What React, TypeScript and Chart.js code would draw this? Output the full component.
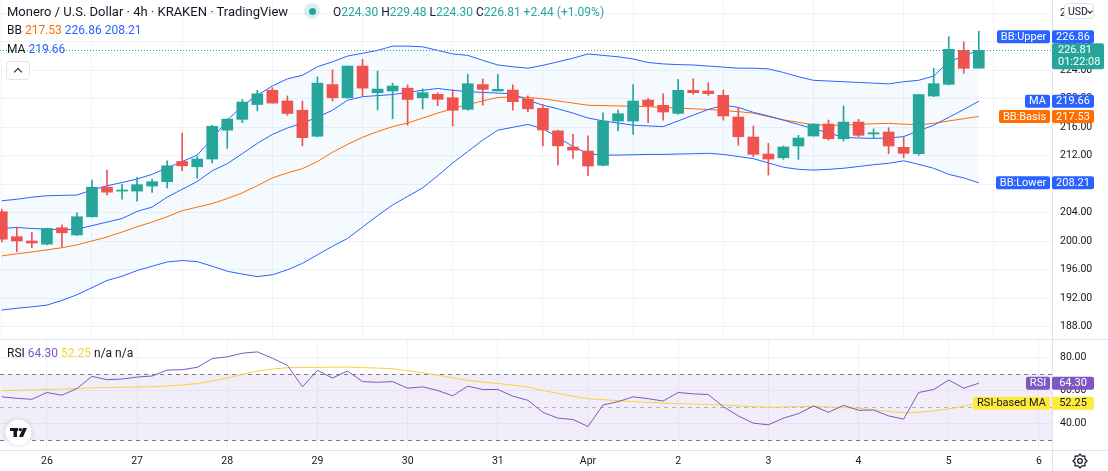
import { useEffect, useRef } from 'react';
import Chart from 'chart.js/auto';

// 4h candles: index 0 = 25 Mar 12:00, index 63 = 5 Apr 00:00
const opens = [
  204.15, 200.65, 200.04, 199.6, 201.9, 200.9, 203.45, 207.6, 207.05, 207.05,
  207.76, 208.37, 211.2, 210.47, 211.55, 215.6, 217.12, 219.2, 221.2, 219.7,
  218.4, 214.75, 222.0, 220.15, 224.6, 220.86, 221.1, 221.5, 220.15, 220.63,
  220.15, 218.53, 222.0, 221.1, 221.23, 219.97, 218.67, 215.5, 213.24, 212.67,
  210.67, 216.88, 216.88, 219.83, 219.09, 217.96, 221.19, 221.09, 220.49, 217.45,
  214.64, 212.25, 211.73, 213.38, 214.78, 216.46, 214.4, 216.74, 215.06, 215.34,
  213.19, 212.3, 220.39, 222.03, 226.81, 224.3,
];
const highs = [
  204.5, 202.0, 201.26, 201.85, 202.3, 204.0, 208.6, 210.0, 208.0, 208.98,
  208.74, 211.3, 215.2, 211.9, 216.3, 217.2, 219.9, 221.2, 221.55, 220.4,
  219.7, 223.1, 224.05, 224.6, 225.55, 223.9, 222.2, 221.95, 221.4, 220.86,
  221.3, 223.45, 222.8, 223.45, 221.95, 220.43, 219.2, 215.6, 215.0, 214.8,
  218.05, 218.43, 222.0, 220.07, 220.7, 222.73, 222.82, 222.26, 221.23, 218.75,
  216.18, 213.75, 213.38, 214.88, 216.5, 217.02, 219.0, 217.12, 215.8, 215.94,
  214.68, 220.6, 224.28, 228.72, 228.0, 229.48,
];
const lows = [
  199.9, 198.55, 199.1, 199.5, 199.25, 200.8, 203.4, 206.5, 205.9, 205.65,
  206.87, 207.5, 209.9, 208.85, 211.0, 213.05, 216.65, 218.3, 219.4, 217.7,
  213.4, 214.65, 219.7, 220.1, 220.4, 218.43, 217.2, 216.3, 218.55, 219.03,
  216.2, 218.4, 219.1, 221.1, 218.4, 218.15, 213.4, 210.7, 211.65, 209.2,
  210.6, 215.48, 215.0, 216.65, 217.0, 217.82, 220.63, 220.49, 217.02, 213.47,
  211.87, 209.3, 211.5, 211.5, 214.75, 214.22, 214.08, 214.68, 214.46, 212.3,
  211.73, 212.07, 220.3, 221.94, 223.58, 224.3,
];
const closes = [
  200.3, 200.05, 199.76, 201.8, 201.2, 203.45, 207.6, 206.9, 207.2, 207.95,
  208.37, 210.6, 210.6, 211.55, 216.14, 217.15, 219.55, 220.7, 219.4, 217.95,
  214.55, 222.2, 220.15, 224.6, 221.5, 221.37, 221.8, 219.9, 220.86, 219.93,
  218.4, 222.12, 221.33, 221.33, 219.6, 218.6, 215.62, 213.4, 212.8, 210.57,
  216.88, 217.91, 219.69, 219.0, 218.15, 221.19, 220.86, 220.72, 217.59, 214.68,
  212.21, 211.55, 213.24, 214.5, 216.46, 214.4, 216.74, 214.88, 215.24, 213.38,
  212.35, 220.6, 222.12, 226.95, 224.28, 226.81,
];

const bbUpper = [
  205.7, 205.9, 206.2, 206.4, 206.45, 206.5, 207.2, 207.8, 208.25, 208.75,
  209.4, 210.3, 211.2, 212.1, 214.4, 217.0, 219.0, 220.5, 221.8, 222.8,
  223.3, 224.5, 225.2, 226.0, 226.4, 226.8, 227.4, 227.4, 227.3, 226.8,
  226.3, 226.1, 225.4, 224.75, 224.5, 224.3, 224.7, 225.2, 225.7, 226.3,
  226.1, 225.9, 225.6, 225.1, 224.9, 224.8, 224.75, 224.6, 224.45, 224.3,
  224.3, 224.2, 223.7, 223.1, 222.6, 222.5, 222.4, 222.3, 222.2, 222.1,
  222.4, 222.6, 223.2, 225.2, 226.0, 226.86,
];
const bbBasis = [
  197.95, 198.25, 198.5, 198.8, 199.1, 199.5, 200.05, 200.6, 201.3, 202.05,
  202.7, 203.45, 204.3, 204.8, 205.3, 206.0, 206.8, 207.8, 208.9, 209.6,
  210.2, 211.2, 212.5, 213.6, 214.6, 215.4, 216.1, 216.6, 217.3, 218.0,
  218.6, 219.2, 219.7, 220.2, 220.25, 220.2, 220.0, 219.7, 219.4, 219.1,
  219.05, 219.0, 218.95, 218.9, 218.8, 218.7, 218.6, 218.5, 218.35, 218.2,
  218.0, 217.5, 217.05, 216.7, 216.35, 216.3, 216.3, 216.4, 216.5, 216.55,
  216.45, 216.35, 216.55, 216.9, 217.2, 217.53,
];
const bbLower = [
  190.35, 190.6, 190.8, 191.05, 191.7, 192.5, 193.5, 194.5, 195.1, 195.9,
  196.5, 197.1, 197.3, 197.15, 196.5, 195.8, 195.4, 195.05, 195.3, 196.0,
  196.9, 198.1, 199.3, 200.4, 202.0, 203.6, 205.1, 206.3, 207.5, 209.2,
  211.0, 212.6, 214.2, 215.6, 216.0, 216.4, 215.8, 214.6, 213.3, 212.3,
  212.1, 212.1, 212.15, 212.2, 212.2, 212.25, 212.3, 212.35, 212.2, 211.9,
  211.6, 211.0, 210.4, 210.1, 210.0, 210.1, 210.25, 210.5, 210.75, 210.95,
  211.3, 210.8, 210.25, 209.4, 208.9, 208.21,
];
const maValues = [
  201.8, 201.95, 201.8, 201.7, 201.65, 201.7, 202.2, 202.7, 203.2, 204.2,
  204.8, 206.2, 207.3, 208.4, 209.9, 210.9, 212.3, 213.75, 215.0, 215.9,
  216.6, 217.4, 218.4, 219.8, 220.3, 220.45, 220.6, 220.9, 221.2, 221.45,
  221.2, 221.0, 220.9, 220.8, 220.7, 219.8, 219.1, 218.6, 218.0, 217.3,
  216.9, 216.6, 216.3, 216.2, 216.1, 216.9, 217.7, 218.5, 219.1, 218.8,
  218.1, 217.6, 217.0, 216.4, 215.8, 215.2, 214.6, 214.5, 214.45, 214.5,
  214.7, 215.5, 216.3, 217.4, 218.5, 219.66,
];

const rsiValues = [
  56.1, 55.2, 54.6, 58.7, 57.1, 61.1, 68.4, 66.4, 66.8, 68.0,
  68.6, 72.2, 72.4, 73.8, 79.1, 80.1, 82.3, 83.1, 79.3, 75.0,
  62.1, 72.0, 67.4, 71.6, 65.25, 64.85, 65.25, 61.3, 62.1, 59.9,
  56.7, 62.5, 60.5, 60.5, 56.5, 54.0, 46.8, 43.3, 42.5, 38.3,
  51.2, 53.2, 56.1, 55.0, 53.6, 58.7, 57.9, 57.5, 50.2, 44.65,
  40.3, 39.3, 43.3, 46.0, 50.6, 46.8, 51.0, 48.0, 48.2, 44.65,
  42.7, 58.7, 60.5, 66.2, 61.3, 64.3,
];
const rsiMaValues = [
  59.7, 60.0, 60.3, 60.5, 60.8, 61.1, 61.5, 61.7, 61.9, 62.0,
  62.1, 62.6, 63.3, 64.1, 65.6, 67.4, 69.6, 71.6, 72.8, 73.6,
  73.7, 73.8, 73.9, 74.0, 73.7, 73.4, 73.0, 71.8, 70.6, 69.1,
  67.5, 66.0, 65.0, 64.1, 63.1, 62.1, 60.0, 58.1, 56.5, 55.0,
  54.4, 53.8, 53.2, 52.8, 52.4, 52.0, 51.7, 51.5, 51.2, 50.7,
  50.2, 49.8, 50.0, 50.2, 50.4, 50.0, 49.6, 49.2, 48.3, 47.4,
  46.6, 46.8, 47.8, 48.8, 50.5, 52.25,
];

const dayTicks = [3, 9, 15, 21, 27, 33, 39, 45, 51, 57, 63, 69];
const dayLabels = ['26', '27', '28', '29', '30', '31', 'Apr', '2', '3', '4', '5', '6'];
const priceTicks = [188, 192, 196, 200, 204, 208, 212, 216, 220, 224, 228, 232];
const rsiTicks = [40, 60, 80];
const rsiLevels = [70, 50, 30];

const UP = '#26a69a';
const DOWN = '#ef5350';
const BLUE = '#2962ff';
const ORANGE = '#ff6d00';
const PURPLE = '#7e57c2';
const YELLOW = '#ffeb3b';
const TEXT = '#131722';
const GRID = '#f0f3fa';
const SEP = '#e0e3eb';
const FONT = 'Roboto, "Noto Sans", sans-serif';

const X_MIN = -0.12;
const X_MAX = 69.87;
const AXIS_W = 56;
const last = closes.length - 1;
const candleColors = opens.map((o, i) => (closes[i] >= o ? UP : DOWN));

function xScale(showLabels: boolean) {
  return {
    type: 'linear' as const,
    min: X_MIN,
    max: X_MAX,
    offset: false,
    afterBuildTicks: (s: any) => {
      s.ticks = dayTicks.map((v) => ({ value: v }));
    },
    afterFit: (s: any) => {
      s.height = showLabels ? 21 : 0;
      s.paddingLeft = 0;
      s.paddingRight = 0;
    },
    ticks: {
      display: showLabels,
      autoSkip: false,
      maxRotation: 0,
      padding: 5,
      color: TEXT,
      font: { family: FONT, size: 10.5 },
      callback: (_v: any, i: number) => dayLabels[i],
    },
    grid: { color: GRID, drawTicks: false },
    border: { display: false },
  };
}

function yScale(min: number, max: number, ticks: number[]) {
  return {
    position: 'right' as const,
    min,
    max,
    afterBuildTicks: (s: any) => {
      s.ticks = ticks.map((v) => ({ value: v }));
    },
    afterFit: (s: any) => {
      s.width = AXIS_W;
      s.paddingTop = 0;
      s.paddingBottom = 0;
    },
    ticks: {
      padding: 8,
      color: TEXT,
      font: { family: FONT, size: 10.5 },
      callback: (v: any) => Number(v).toFixed(2),
    },
    grid: { color: GRID, drawTicks: false },
    border: { display: false },
  };
}

function drawTag(ctx: CanvasRenderingContext2D, x: number, cy: number, w: number, h: number, bg: string, text: string, fg: string) {
  ctx.fillStyle = bg;
  ctx.beginPath();
  ctx.roundRect(x, cy - h / 2, w, h, 2);
  ctx.fill();
  ctx.fillStyle = fg;
  ctx.textAlign = 'center';
  ctx.textBaseline = 'middle';
  ctx.fillText(text, x + w / 2, cy + 0.5);
}

// name tag left of the axis + value tag on the axis
function drawPair(ctx: CanvasRenderingContext2D, right: number, cy: number, bg: string, name: string, value: string, fg: string) {
  ctx.font = `11px ${FONT}`;
  const w = Math.round(ctx.measureText(name).width) + 8;
  drawTag(ctx, right - 2 - w, cy, w, 13, bg, name, fg);
  drawTag(ctx, right, cy, 42, 13, bg, value, fg);
}

const mainOverlay = {
  id: 'mainOverlay',
  afterDatasetsDraw(chart: any) {
    const { ctx, chartArea, scales } = chart;
    const y = Math.round(scales.y.getPixelForValue(closes[last])) + 0.5;
    ctx.save();
    ctx.strokeStyle = UP;
    ctx.lineWidth = 1;
    ctx.setLineDash([1, 2]);
    ctx.beginPath();
    ctx.moveTo(chartArea.left, y);
    ctx.lineTo(chartArea.right, y);
    ctx.stroke();
    ctx.restore();
  },
  afterDraw(chart: any) {
    const { ctx, chartArea, scales, width, height } = chart;
    const right = chartArea.right;
    const py = (v: number) => scales.y.getPixelForValue(v);
    ctx.save();
    ctx.strokeStyle = SEP;
    ctx.lineWidth = 1;
    ctx.beginPath();
    ctx.moveTo(right + 0.5, 0);
    ctx.lineTo(right + 0.5, height);
    ctx.moveTo(0, height - 0.5);
    ctx.lineTo(width, height - 0.5);
    ctx.stroke();

    // current price + countdown
    const curTop = py(closes[last]) - 7;
    ctx.fillStyle = UP;
    ctx.beginPath();
    ctx.roundRect(right, curTop, 52, 26, 2);
    ctx.fill();
    ctx.fillStyle = '#ffffff';
    ctx.font = `11px ${FONT}`;
    ctx.textAlign = 'left';
    ctx.textBaseline = 'middle';
    ctx.fillText(closes[last].toFixed(2), right + 6, curTop + 7);
    ctx.fillText('01:22:08', right + 6, curTop + 19);

    drawPair(ctx, right, curTop - 6.5, BLUE, 'BB:Upper', bbUpper[last].toFixed(2), '#ffffff');
    drawPair(ctx, right, py(maValues[last]), BLUE, 'MA', maValues[last].toFixed(2), '#ffffff');
    drawPair(ctx, right, py(bbBasis[last]), ORANGE, 'BB:Basis', bbBasis[last].toFixed(2), '#ffffff');
    drawPair(ctx, right, py(bbLower[last]), BLUE, 'BB:Lower', bbLower[last].toFixed(2), '#ffffff');
    ctx.restore();
  },
};

const rsiOverlay = {
  id: 'rsiOverlay',
  beforeDatasetsDraw(chart: any) {
    const { ctx, chartArea, scales } = chart;
    const y = (v: number) => scales.y.getPixelForValue(v);
    ctx.save();
    ctx.fillStyle = 'rgba(126, 87, 194, 0.1)';
    ctx.fillRect(chartArea.left, y(70), chartArea.right - chartArea.left, y(30) - y(70));
    ctx.lineWidth = 1;
    rsiLevels.forEach((lv) => {
      const yy = Math.round(y(lv)) + 0.5;
      ctx.strokeStyle = lv === 50 ? 'rgba(120, 123, 134, 0.5)' : '#787b86';
      ctx.setLineDash([4, 4]);
      ctx.beginPath();
      ctx.moveTo(chartArea.left, yy);
      ctx.lineTo(chartArea.right, yy);
      ctx.stroke();
    });
    ctx.restore();
  },
  afterDraw(chart: any) {
    const { ctx, chartArea, scales, width, height } = chart;
    const right = chartArea.right;
    const y = (v: number) => scales.y.getPixelForValue(v);
    ctx.save();
    ctx.strokeStyle = SEP;
    ctx.lineWidth = 1;
    ctx.beginPath();
    ctx.moveTo(right + 0.5, 0);
    ctx.lineTo(right + 0.5, height);
    ctx.moveTo(0, chartArea.bottom + 0.5);
    ctx.lineTo(width, chartArea.bottom + 0.5);
    ctx.stroke();

    drawPair(ctx, right, y(rsiValues[last]), PURPLE, 'RSI', rsiValues[last].toFixed(2), '#ffffff');
    drawPair(ctx, right, y(rsiMaValues[last]), YELLOW, 'RSI-based MA', rsiMaValues[last].toFixed(2), TEXT);

    // TradingView badge
    ctx.save();
    ctx.shadowColor = 'rgba(0,0,0,0.18)';
    ctx.shadowBlur = 4;
    ctx.fillStyle = '#ffffff';
    ctx.beginPath();
    ctx.arc(18.5, 92.5, 13, 0, Math.PI * 2);
    ctx.fill();
    ctx.restore();
    ctx.fillStyle = TEXT;
    ctx.fillRect(10, 88, 8, 3);
    ctx.fillRect(13.5, 88, 3.5, 9);
    ctx.beginPath();
    ctx.arc(20.3, 89.6, 1.7, 0, Math.PI * 2);
    ctx.fill();
    ctx.beginPath();
    ctx.moveTo(23, 88);
    ctx.lineTo(27, 88);
    ctx.lineTo(23, 97);
    ctx.lineTo(19, 97);
    ctx.closePath();
    ctx.fill();

    // settings gear
    const gx = 1080;
    const gy = chartArea.bottom + 11;
    ctx.strokeStyle = TEXT;
    ctx.lineWidth = 1.2;
    ctx.beginPath();
    for (let k = 0; k < 16; k++) {
      const a = (k / 16) * Math.PI * 2;
      const r = k % 2 === 0 ? 7 : 5.3;
      const px = gx + Math.cos(a) * r;
      const pyy = gy + Math.sin(a) * r;
      if (k === 0) ctx.moveTo(px, pyy);
      else ctx.lineTo(px, pyy);
    }
    ctx.closePath();
    ctx.stroke();
    ctx.beginPath();
    ctx.arc(gx, gy, 2.3, 0, Math.PI * 2);
    ctx.stroke();
    ctx.restore();
  },
};

const xy = (vals: number[]) => vals.map((v, i) => ({ x: i, y: v }));

export default function App() {
  const mainRef = useRef<HTMLCanvasElement>(null);
  const rsiRef = useRef<HTMLCanvasElement>(null);

  useEffect(() => {
    if (!mainRef.current || !rsiRef.current) return;

    const lineDs = (label: string, data: number[], color: string, order: number, extra: any = {}) => ({
      type: 'line' as const,
      label,
      data: xy(data),
      borderColor: color,
      borderWidth: 1,
      pointRadius: 0,
      tension: 0,
      order,
      ...extra,
    });

    const main = new Chart(mainRef.current, {
      type: 'bar',
      data: {
        datasets: [
          lineDs('BB Upper', bbUpper, BLUE, 6, { fill: '+1', backgroundColor: 'rgba(33, 150, 243, 0.05)' }),
          lineDs('BB Lower', bbLower, BLUE, 6, { fill: false }),
          lineDs('BB Basis', bbBasis, ORANGE, 5, { fill: false }),
          lineDs('MA', maValues, BLUE, 4, { fill: false }),
          {
            type: 'bar' as const,
            label: 'wicks',
            data: lows.map((l, i) => ({ x: i, y: [l, highs[i]] })),
            backgroundColor: candleColors,
            barThickness: 1,
            grouped: false,
            order: 2,
          },
          {
            type: 'bar' as const,
            label: 'bodies',
            data: opens.map((o, i) => ({ x: i, y: [o, closes[i]] })),
            backgroundColor: candleColors,
            barThickness: 11,
            grouped: false,
            order: 1,
          },
        ] as any,
      },
      options: {
        animation: false,
        responsive: true,
        maintainAspectRatio: false,
        layout: { padding: 0 },
        plugins: { legend: { display: false }, tooltip: { enabled: false } },
        scales: {
          x: xScale(false),
          y: { ...yScale(186.15, 233.87, priceTicks), border: { display: false } },
        } as any,
      },
      plugins: [mainOverlay],
    });

    const rsi = new Chart(rsiRef.current, {
      type: 'line',
      data: {
        datasets: [
          lineDs('RSI', rsiValues, PURPLE, 1, { fill: false }),
          lineDs('RSI-based MA', rsiMaValues, '#f5d33f', 2, { fill: false }),
        ] as any,
      },
      options: {
        animation: false,
        responsive: true,
        maintainAspectRatio: false,
        layout: { padding: 0 },
        plugins: { legend: { display: false }, tooltip: { enabled: false } },
        scales: {
          x: xScale(true),
          y: yScale(24.17, 90.24, rsiTicks),
        } as any,
      },
      plugins: [rsiOverlay],
    });

    return () => {
      main.destroy();
      rsi.destroy();
    };
  }, []);

  const legend: React.CSSProperties = {
    position: 'absolute',
    left: 7,
    fontFamily: FONT,
    fontSize: 12,
    lineHeight: '14px',
    color: TEXT,
    whiteSpace: 'nowrap',
    pointerEvents: 'none',
  };

  return (
    <div style={{ position: 'fixed', left: 0, top: 0, width: 1108, height: 471, background: '#ffffff', overflow: 'hidden' }}>
      <div style={{ position: 'absolute', left: 0, top: 0, width: 1108, height: 340 }}>
        <canvas ref={mainRef} />
      </div>
      <div style={{ position: 'absolute', left: 0, top: 340, width: 1108, height: 131 }}>
        <canvas ref={rsiRef} />
      </div>

      <div style={{ ...legend, top: 4, fontSize: 13, lineHeight: '16px' }}>
        Monero / U.S. Dollar · 4h · KRAKEN · TradingView
      </div>
      <div style={{ position: 'absolute', left: 304, top: 3, width: 16, height: 16, borderRadius: 8, background: 'rgba(38,166,154,0.18)' }}>
        <div style={{ position: 'absolute', left: 4.5, top: 4.5, width: 7, height: 7, borderRadius: 4, background: UP }} />
      </div>
      <div style={{ ...legend, left: 333, top: 5 }}>
        O<span style={{ color: UP }}>{opens[last].toFixed(2)}</span> H<span style={{ color: UP }}>{highs[last].toFixed(2)}</span> L
        <span style={{ color: UP }}>{lows[last].toFixed(2)}</span> C<span style={{ color: UP }}>{closes[last].toFixed(2)}</span>{' '}
        <span style={{ color: UP }}>+2.44 (+1.09%)</span>
      </div>
      <div style={{ ...legend, top: 23 }}>
        BB <span style={{ color: ORANGE }}>{bbBasis[last].toFixed(2)}</span> <span style={{ color: BLUE }}>{bbUpper[last].toFixed(2)}</span>{' '}
        <span style={{ color: BLUE }}>{bbLower[last].toFixed(2)}</span>
      </div>
      <div style={{ ...legend, top: 42 }}>
        MA <span style={{ color: BLUE }}>{maValues[last].toFixed(2)}</span>
      </div>
      <div style={{ position: 'absolute', left: 6, top: 61, width: 22, height: 17, border: `1px solid ${SEP}`, borderRadius: 4, background: '#ffffff' }}>
        <div style={{ position: 'absolute', left: 8, top: 7, width: 5, height: 5, borderLeft: `1.5px solid ${TEXT}`, borderTop: `1.5px solid ${TEXT}`, transform: 'rotate(45deg)' }} />
      </div>
      <div style={{ position: 'absolute', left: 1064, top: 3, width: 30, height: 16, border: `1px solid ${SEP}`, borderRadius: 4, background: '#ffffff', fontFamily: FONT, fontSize: 10.5, lineHeight: '16px', color: TEXT, paddingLeft: 3, boxSizing: 'border-box' }}>
        USD
        <div style={{ position: 'absolute', left: 23, top: 5, width: 3, height: 3, borderRight: `1px solid ${TEXT}`, borderBottom: `1px solid ${TEXT}`, transform: 'rotate(45deg)' }} />
      </div>
      <div style={{ ...legend, top: 346 }}>
        RSI <span style={{ color: PURPLE }}>{rsiValues[last].toFixed(2)}</span> <span style={{ color: '#f5d33f' }}>{rsiMaValues[last].toFixed(2)}</span> n/a n/a
      </div>
    </div>
  );
}
